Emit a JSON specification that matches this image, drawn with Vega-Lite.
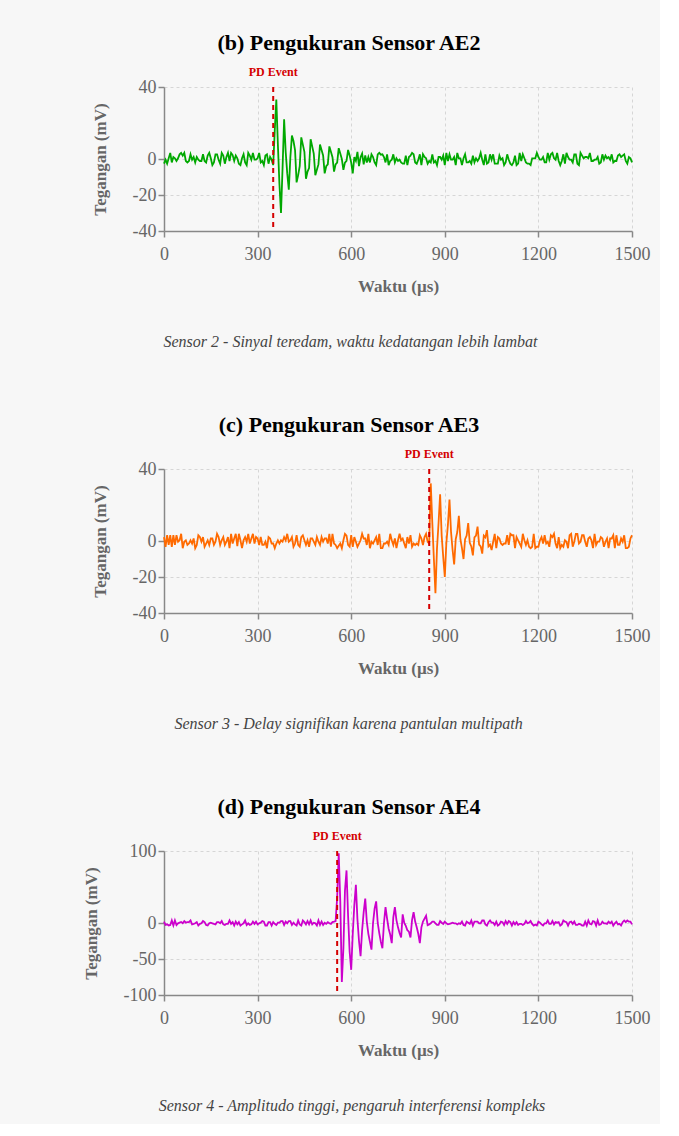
{
"$schema": "https://vega.github.io/schema/vega-lite/v6.json",
"background": "#f7f7f7",
"padding": {"left": 82, "top": 32, "right": 10, "bottom": 10},
"config": {
  "font": "Liberation Serif",
  "view": {"stroke": null},
  "axis": {"labelFontSize": 18, "labelColor": "#666", "titleFontSize": 17, "titleColor": "#666", "titleFontWeight": "bold", "domainColor": "#888", "domainWidth": 1.5, "tickColor": "#888", "tickWidth": 1.5, "tickSize": 6, "gridColor": "#d6d6d6", "gridDash": [3, 3], "labelPadding": 2, "labelFlush": false},
  "title": {"fontSize": 22, "fontWeight": "bold", "color": "#000"},
  "concat": {"spacing": 64}
},
"datasets": {
"ae2": [
{"t":0,"v":-2.6},{"t":5,"v":-0.4},{"t":10,"v":-2.6},{"t":15,"v":0.4},{"t":20,"v":3.4},{"t":25,"v":-1.9},{"t":30,"v":1.1},{"t":35,"v":0.4},{"t":40,"v":-1.1},{"t":45,"v":0.4},
{"t":50,"v":2.6},{"t":55,"v":3.4},{"t":60,"v":1.9},{"t":65,"v":3.4},{"t":70,"v":-1.1},{"t":75,"v":-1.9},{"t":80,"v":-1.1},{"t":85,"v":2.6},{"t":90,"v":-0.4},{"t":95,"v":1.1},
{"t":100,"v":-1.9},{"t":105,"v":1.1},{"t":110,"v":-0.4},{"t":115,"v":-1.1},{"t":120,"v":-1.1},{"t":125,"v":2.6},{"t":130,"v":-1.1},{"t":135,"v":-1.9},{"t":140,"v":1.9},{"t":145,"v":3.4},
{"t":150,"v":0.4},{"t":155,"v":-3.4},{"t":160,"v":-1.9},{"t":165,"v":2.6},{"t":170,"v":2.6},{"t":175,"v":-0.4},{"t":180,"v":-2.6},{"t":185,"v":3.4},{"t":190,"v":1.9},{"t":195,"v":-2.6},
{"t":200,"v":1.1},{"t":205,"v":3.4},{"t":210,"v":-1.1},{"t":215,"v":3.4},{"t":220,"v":2.2},{"t":225,"v":-1.1},{"t":230,"v":1.9},{"t":235,"v":0.4},{"t":240,"v":-2.6},{"t":245,"v":-3.4},
{"t":250,"v":0.4},{"t":255,"v":2.6},{"t":260,"v":-1.9},{"t":265,"v":-3.4},{"t":270,"v":3.4},{"t":275,"v":1.9},{"t":280,"v":-0.4},{"t":285,"v":3.4},{"t":290,"v":-0.4},{"t":295,"v":-0.4},
{"t":300,"v":0.4},{"t":305,"v":3.4},{"t":310,"v":-1.9},{"t":315,"v":-1.1},{"t":320,"v":-3.4},{"t":325,"v":1.9},{"t":330,"v":2.6},{"t":335,"v":-2.6},{"t":340,"v":1.1},{"t":345,"v":-0.4},
{"t":350,"v":-3.4},
{"t":355,"v":16},{"t":360,"v":33},{"t":365,"v":8},{"t":370,"v":-14},{"t":375,"v":-30},{"t":380,"v":-5},{"t":385,"v":22},{"t":390,"v":4},{"t":395,"v":-8},{"t":400,"v":-17},
{"t":405,"v":1},{"t":410,"v":13},{"t":415,"v":10},{"t":420,"v":5},{"t":425,"v":-13},{"t":430,"v":-9},{"t":435,"v":-4},{"t":440,"v":12},{"t":445,"v":8},{"t":450,"v":4},
{"t":455,"v":-11},{"t":460,"v":-7},{"t":465,"v":-5},{"t":470,"v":11},{"t":475,"v":7},{"t":480,"v":3},{"t":485,"v":-9},{"t":490,"v":-6},{"t":495,"v":-3},{"t":500,"v":8},
{"t":505,"v":5},{"t":510,"v":2},{"t":515,"v":-8},{"t":520,"v":-4},{"t":525,"v":-3},{"t":530,"v":7},{"t":535,"v":4},{"t":540,"v":1},{"t":545,"v":-7},{"t":550,"v":-3},
{"t":555,"v":-2},{"t":560,"v":6},{"t":565,"v":3},{"t":570,"v":0},{"t":575,"v":-6},{"t":580,"v":-2},{"t":585,"v":-1},{"t":590,"v":5},{"t":595,"v":2},{"t":600,"v":-2},
{"t":605,"v":-8},{"t":610,"v":1},{"t":615,"v":-1},{"t":620,"v":4},{"t":625,"v":-4},{"t":630,"v":1},{"t":635,"v":3},{"t":640,"v":-3},{"t":645,"v":2},{"t":650,"v":-2},
{"t":655,"v":1.1},{"t":660,"v":-1.9},{"t":665,"v":2.6},{"t":670,"v":1.1},{"t":675,"v":-1.9},{"t":680,"v":-3.4},{"t":685,"v":2.6},{"t":690,"v":3.4},{"t":695,"v":2.4},
{"t":700,"v":2.6},{"t":705,"v":1.1},{"t":710,"v":-1.9},{"t":715,"v":2.6},{"t":720,"v":-3.4},{"t":725,"v":-1.1},{"t":730,"v":-0.4},{"t":735,"v":2.6},{"t":740,"v":-1.9},{"t":745,"v":0.4},
{"t":750,"v":-1.1},{"t":755,"v":-0.4},{"t":760,"v":-1.9},{"t":765,"v":-2.6},{"t":770,"v":-2.6},{"t":775,"v":1.9},{"t":780,"v":-3.4},{"t":785,"v":1.1},{"t":790,"v":1.9},{"t":795,"v":3.4},
{"t":800,"v":2.6},{"t":805,"v":-1.9},{"t":810,"v":-2.6},{"t":815,"v":-0.4},{"t":820,"v":2.6},{"t":825,"v":-3.4},{"t":830,"v":2.6},{"t":835,"v":1.1},{"t":840,"v":0.4},{"t":845,"v":-2.6},
{"t":850,"v":-1.1},{"t":855,"v":-1.9},{"t":860,"v":2.6},{"t":865,"v":-1.9},{"t":870,"v":-1.1},{"t":875,"v":-3.4},{"t":880,"v":1.1},{"t":885,"v":1.1},{"t":890,"v":-0.4},{"t":895,"v":1.9},
{"t":900,"v":-3.4},{"t":905,"v":3.4},{"t":910,"v":-1.1},{"t":915,"v":2.6},{"t":920,"v":-0.4},{"t":925,"v":-0.4},{"t":930,"v":1.1},{"t":935,"v":-3.4},{"t":940,"v":3.4},{"t":945,"v":0.4},
{"t":950,"v":0.4},{"t":955,"v":-3.4},{"t":960,"v":0.4},{"t":965,"v":2.6},{"t":970,"v":-1.9},{"t":975,"v":-1.9},{"t":980,"v":-1.1},{"t":985,"v":-2.6},{"t":990,"v":1.9},{"t":995,"v":-1.9},
{"t":1000,"v":0.4},{"t":1005,"v":-1.1},{"t":1010,"v":0.4},{"t":1015,"v":3.4},{"t":1020,"v":-0.4},{"t":1025,"v":-3.4},{"t":1030,"v":2.6},{"t":1035,"v":-2.6},{"t":1040,"v":-1.9},{"t":1045,"v":2.6},
{"t":1050,"v":-0.4},{"t":1055,"v":2.6},{"t":1060,"v":-2.6},{"t":1065,"v":-2.6},{"t":1070,"v":-2.6},{"t":1075,"v":1.9},{"t":1080,"v":-0.4},{"t":1085,"v":0.4},{"t":1090,"v":-3.4},{"t":1095,"v":-1.9},
{"t":1100,"v":2.6},{"t":1105,"v":-0.4},{"t":1110,"v":-2.6},{"t":1115,"v":-3.4},{"t":1120,"v":-1.9},{"t":1125,"v":1.9},{"t":1130,"v":-3.4},{"t":1135,"v":-2.6},{"t":1140,"v":3.4},{"t":1145,"v":-1.1},
{"t":1150,"v":2.6},{"t":1155,"v":0.4},{"t":1160,"v":-1.9},{"t":1165,"v":-2.6},{"t":1170,"v":-2.6},{"t":1175,"v":-3.4},{"t":1180,"v":0.4},{"t":1185,"v":0.4},{"t":1190,"v":0.4},{"t":1195,"v":3.4},
{"t":1200,"v":1.1},{"t":1205,"v":-0.4},{"t":1210,"v":-0.4},{"t":1215,"v":1.1},{"t":1220,"v":-1.9},{"t":1225,"v":-1.9},{"t":1230,"v":3.4},{"t":1235,"v":-0.4},{"t":1240,"v":2.6},{"t":1245,"v":3.4},
{"t":1250,"v":0.4},{"t":1255,"v":-0.4},{"t":1260,"v":3.4},{"t":1265,"v":-1.1},{"t":1270,"v":-3.4},{"t":1275,"v":-1.1},{"t":1280,"v":2.6},{"t":1285,"v":-2.6},{"t":1290,"v":3.4},{"t":1295,"v":1.1},
{"t":1300,"v":-0.4},{"t":1305,"v":-0.4},{"t":1310,"v":-1.9},{"t":1315,"v":2.6},{"t":1320,"v":2.6},{"t":1325,"v":-2.6},{"t":1330,"v":-3.4},{"t":1335,"v":3.4},{"t":1340,"v":1.9},{"t":1345,"v":0.4},
{"t":1350,"v":1.1},{"t":1355,"v":1.1},{"t":1360,"v":0.4},{"t":1365,"v":3.4},{"t":1370,"v":-1.1},{"t":1375,"v":-1.1},{"t":1380,"v":-0.4},{"t":1385,"v":-0.4},{"t":1390,"v":1.1},{"t":1395,"v":-2.6},
{"t":1400,"v":-1.9},{"t":1405,"v":2.6},{"t":1410,"v":-0.4},{"t":1415,"v":1.9},{"t":1420,"v":0.4},{"t":1425,"v":1.1},{"t":1430,"v":-0.4},{"t":1435,"v":2.6},{"t":1440,"v":-1.9},{"t":1445,"v":-1.1},
{"t":1450,"v":-1.1},{"t":1455,"v":1.9},{"t":1460,"v":2.6},{"t":1465,"v":1.1},{"t":1470,"v":1.9},{"t":1475,"v":2.6},{"t":1480,"v":-1.1},{"t":1485,"v":-2.6},{"t":1490,"v":1.1},{"t":1495,"v":0.4},
{"t":1500,"v":-1.9}
],
"ae3": [
{"t":0,"v":2.2},{"t":5,"v":-3.2},{"t":10,"v":3.2},{"t":15,"v":-2.2},{"t":20,"v":3.2},{"t":25,"v":-3.2},{"t":30,"v":3.2},{"t":35,"v":-2.2},{"t":40,"v":3.2},{"t":45,"v":-0.4},
{"t":50,"v":0.4},{"t":55,"v":4.0},{"t":60,"v":-4.0},{"t":65,"v":-0.4},{"t":70,"v":0.4},{"t":75,"v":-2.2},{"t":80,"v":-1.4},{"t":85,"v":0.4},{"t":90,"v":-1.4},{"t":95,"v":1.4},
{"t":100,"v":-4.0},{"t":105,"v":-2.2},{"t":110,"v":3.2},{"t":115,"v":2.2},{"t":120,"v":-0.4},{"t":125,"v":2.2},{"t":130,"v":-3.2},{"t":135,"v":-1.4},{"t":140,"v":0.4},{"t":145,"v":-2.2},
{"t":150,"v":1.4},{"t":155,"v":1.4},{"t":160,"v":-2.2},{"t":165,"v":-0.4},{"t":170,"v":4.0},{"t":175,"v":2.2},{"t":180,"v":-2.2},{"t":185,"v":0.4},{"t":190,"v":2.2},{"t":195,"v":-2.2},
{"t":200,"v":-0.4},{"t":205,"v":2.2},{"t":210,"v":-4.0},{"t":215,"v":4.0},{"t":220,"v":-1.4},{"t":225,"v":1.4},{"t":230,"v":4.0},{"t":235,"v":-2.8},{"t":240,"v":4.0},{"t":245,"v":0.4},
{"t":250,"v":-4.0},{"t":255,"v":0.4},{"t":260,"v":2.2},{"t":265,"v":-0.4},{"t":270,"v":4.0},{"t":275,"v":-1.4},{"t":280,"v":1.4},{"t":285,"v":4.0},{"t":290,"v":-1.4},{"t":295,"v":2.2},
{"t":300,"v":1.4},{"t":305,"v":-2.2},{"t":310,"v":2.2},{"t":315,"v":-2.2},{"t":320,"v":-2.2},{"t":325,"v":-0.4},{"t":330,"v":-4.0},{"t":335,"v":2.2},{"t":340,"v":1.4},{"t":345,"v":-1.4},
{"t":350,"v":-1.4},{"t":355,"v":-4.0},{"t":360,"v":-1.4},{"t":365,"v":0.4},{"t":370,"v":-1.4},{"t":375,"v":0.4},{"t":380,"v":-0.4},{"t":385,"v":2.2},{"t":390,"v":0.4},{"t":395,"v":4.0},
{"t":400,"v":-0.4},{"t":405,"v":0.4},{"t":410,"v":2.2},{"t":415,"v":-3.2},{"t":420,"v":-1.4},{"t":425,"v":3.2},{"t":430,"v":-2.2},{"t":435,"v":-3.2},{"t":440,"v":2.2},{"t":445,"v":3.2},
{"t":450,"v":0.4},{"t":455,"v":-2.2},{"t":460,"v":0.4},{"t":465,"v":-3.2},{"t":470,"v":1.4},{"t":475,"v":1.4},{"t":480,"v":-0.4},{"t":485,"v":-2.2},{"t":490,"v":2.2},{"t":495,"v":-0.4},
{"t":500,"v":-2.2},{"t":505,"v":2.2},{"t":510,"v":-0.4},{"t":515,"v":1.4},{"t":520,"v":1.4},{"t":525,"v":-1.4},{"t":530,"v":4.0},{"t":535,"v":-3.2},{"t":540,"v":4.0},{"t":545,"v":-1.4},
{"t":550,"v":-2.2},{"t":555,"v":-4.0},{"t":560,"v":-2.6},{"t":565,"v":-1.4},{"t":570,"v":-4.0},{"t":575,"v":0.4},{"t":580,"v":4.0},{"t":585,"v":3.0},{"t":590,"v":-2.2},{"t":595,"v":-3.2},
{"t":600,"v":3.2},{"t":605,"v":-3.2},{"t":610,"v":2.2},{"t":615,"v":-0.4},{"t":620,"v":-3.2},{"t":625,"v":-1.4},{"t":630,"v":0.4},{"t":635,"v":4.0},{"t":640,"v":1.4},{"t":645,"v":1.4},
{"t":650,"v":-2.2},{"t":655,"v":4.0},{"t":660,"v":-4.0},{"t":665,"v":-0.4},{"t":670,"v":-1.4},{"t":675,"v":0.4},{"t":680,"v":2.2},{"t":685,"v":-2.2},{"t":690,"v":4.0},{"t":695,"v":-4.0},
{"t":700,"v":-4.0},{"t":705,"v":-1.4},{"t":710,"v":-1.4},{"t":715,"v":-0.4},{"t":720,"v":-2.2},{"t":725,"v":4.0},{"t":730,"v":0.4},{"t":735,"v":-2.2},{"t":740,"v":1.4},{"t":745,"v":-4.0},
{"t":750,"v":0.4},{"t":755,"v":4.0},{"t":760,"v":0.4},{"t":765,"v":1.4},{"t":770,"v":-1.4},{"t":775,"v":-4.0},{"t":780,"v":2.2},{"t":785,"v":-1.4},{"t":790,"v":3.2},{"t":795,"v":-3.2},
{"t":800,"v":-1.4},{"t":805,"v":-2.2},{"t":810,"v":-1.4},{"t":815,"v":-2.2},{"t":820,"v":3.2},{"t":825,"v":1.4},{"t":830,"v":-2.2},{"t":835,"v":2.2},{"t":840,"v":4.0},{"t":845,"v":-0.4},
{"t":850,"v":-1.4},
{"t":855,"v":32},{"t":860,"v":10},{"t":865,"v":-10},{"t":870,"v":-29},{"t":875,"v":-4},{"t":880,"v":10},{"t":885,"v":26},{"t":890,"v":3},{"t":895,"v":-9},{"t":900,"v":-20},
{"t":905,"v":-1},{"t":910,"v":9},{"t":915,"v":23},{"t":920,"v":5},{"t":925,"v":-5},{"t":930,"v":-13},{"t":935,"v":1},{"t":940,"v":5},{"t":945,"v":14},{"t":950,"v":1},
{"t":955,"v":-4},{"t":960,"v":-10},{"t":965,"v":1},{"t":970,"v":3},{"t":975,"v":10},{"t":980,"v":-1},{"t":985,"v":-3},{"t":990,"v":-8},{"t":995,"v":2},{"t":1000,"v":3},
{"t":1005,"v":8},{"t":1010,"v":-2},{"t":1015,"v":-3},{"t":1020,"v":-7},{"t":1025,"v":3},{"t":1030,"v":2},{"t":1035,"v":6},{"t":1040,"v":-3},{"t":1045,"v":-2},{"t":1050,"v":-5},
{"t":1055,"v":-0.4},{"t":1060,"v":4.0},{"t":1065,"v":-4.0},{"t":1070,"v":2.2},{"t":1075,"v":1.4},{"t":1080,"v":-1.4},{"t":1085,"v":-2.2},{"t":1090,"v":-1.4},{"t":1095,"v":-1.4},
{"t":1100,"v":3.2},{"t":1105,"v":-2.2},{"t":1110,"v":4.0},{"t":1115,"v":3.2},{"t":1120,"v":3.2},{"t":1125,"v":-4.0},{"t":1130,"v":2.2},{"t":1135,"v":0.4},{"t":1140,"v":-1.4},{"t":1145,"v":-3.2},
{"t":1150,"v":4.0},{"t":1155,"v":0.4},{"t":1160,"v":-2.2},{"t":1165,"v":0.4},{"t":1170,"v":-3.2},{"t":1175,"v":-4.0},{"t":1180,"v":-3.2},{"t":1185,"v":4.0},{"t":1190,"v":-4.0},{"t":1195,"v":-3.2},
{"t":1200,"v":-3.2},{"t":1205,"v":0.4},{"t":1210,"v":2.2},{"t":1215,"v":-1.4},{"t":1220,"v":3.2},{"t":1225,"v":-1.4},{"t":1230,"v":-0.4},{"t":1235,"v":-3.2},{"t":1240,"v":3.2},{"t":1245,"v":2.2},
{"t":1250,"v":4.0},{"t":1255,"v":-1.4},{"t":1260,"v":-4.0},{"t":1265,"v":2.2},{"t":1270,"v":-4.0},{"t":1275,"v":-2.2},{"t":1280,"v":-3.2},{"t":1285,"v":0.4},{"t":1290,"v":-0.4},{"t":1295,"v":-4.0},
{"t":1300,"v":3.2},{"t":1305,"v":4.0},{"t":1310,"v":-3.2},{"t":1315,"v":-0.4},{"t":1320,"v":4.0},{"t":1325,"v":4.0},{"t":1330,"v":-1.4},{"t":1335,"v":-0.4},{"t":1340,"v":3.2},{"t":1345,"v":3.2},
{"t":1350,"v":-0.4},{"t":1355,"v":-3.2},{"t":1360,"v":1.4},{"t":1365,"v":2.2},{"t":1370,"v":0.4},{"t":1375,"v":-4.0},{"t":1380,"v":4.0},{"t":1385,"v":-2.2},{"t":1390,"v":-0.4},{"t":1395,"v":-0.4},
{"t":1400,"v":2.2},{"t":1405,"v":1.4},{"t":1410,"v":-3.2},{"t":1415,"v":-0.4},{"t":1420,"v":1.4},{"t":1425,"v":-4.0},{"t":1430,"v":1.4},{"t":1435,"v":1.4},{"t":1440,"v":3.2},{"t":1445,"v":-4.0},
{"t":1450,"v":3.2},{"t":1455,"v":-2.2},{"t":1460,"v":-2.2},{"t":1465,"v":1.4},{"t":1470,"v":-0.4},{"t":1475,"v":3.2},{"t":1480,"v":-4.0},{"t":1485,"v":-4.0},{"t":1490,"v":-3.2},{"t":1495,"v":1.4},
{"t":1500,"v":3.2}
],
"ae4": [
{"t":0,"v":1.9},{"t":5,"v":-2.7},{"t":10,"v":-1.9},{"t":15,"v":-3.5},{"t":20,"v":-2.7},{"t":25,"v":3.5},{"t":30,"v":-3.5},{"t":35,"v":3.5},{"t":40,"v":-2.7},
{"t":45,"v":-0.4},{"t":50,"v":0.4},{"t":55,"v":1.2},{"t":60,"v":-0.4},{"t":65,"v":2.7},{"t":70,"v":0.4},{"t":75,"v":1.2},{"t":80,"v":1.2},{"t":85,"v":3.5},{"t":90,"v":-1.9},
{"t":95,"v":-1.2},{"t":100,"v":-0.4},{"t":105,"v":1.2},{"t":110,"v":-3.5},{"t":115,"v":-1.2},{"t":120,"v":-0.4},{"t":125,"v":2.7},{"t":130,"v":1.2},{"t":135,"v":-2.7},{"t":140,"v":-3.5},
{"t":145,"v":-0.4},{"t":150,"v":0.4},{"t":155,"v":-0.4},{"t":160,"v":-1.2},{"t":165,"v":-1.9},{"t":170,"v":1.2},{"t":175,"v":1.2},{"t":180,"v":-0.4},{"t":185,"v":2.7},{"t":190,"v":-1.9},
{"t":195,"v":-2.7},{"t":200,"v":-1.2},{"t":205,"v":-1.2},{"t":210,"v":3.5},{"t":215,"v":-1.2},{"t":220,"v":1.2},{"t":225,"v":-3.5},{"t":230,"v":1.9},{"t":235,"v":-1.9},{"t":240,"v":1.2},
{"t":245,"v":-3.5},{"t":250,"v":-1.9},{"t":255,"v":-0.4},{"t":260,"v":3.5},{"t":265,"v":-2.7},{"t":270,"v":-0.4},{"t":275,"v":-2.7},{"t":280,"v":-1.9},{"t":285,"v":1.9},{"t":290,"v":-1.2},
{"t":295,"v":1.9},{"t":300,"v":-1.9},{"t":305,"v":-0.4},{"t":310,"v":0.4},{"t":315,"v":2.7},{"t":320,"v":1.9},{"t":325,"v":-3.5},{"t":330,"v":-3.5},{"t":335,"v":1.2},{"t":340,"v":1.2},
{"t":345,"v":-3.5},{"t":350,"v":1.2},{"t":355,"v":-1.2},{"t":360,"v":-2.7},{"t":365,"v":0.4},{"t":370,"v":0.4},{"t":375,"v":2.7},{"t":380,"v":2.7},{"t":385,"v":-2.7},{"t":390,"v":1.9},
{"t":395,"v":-0.4},{"t":400,"v":2.7},{"t":405,"v":2.7},{"t":410,"v":-2.7},{"t":415,"v":0.4},{"t":420,"v":-1.9},{"t":425,"v":-3.5},{"t":430,"v":3.5},{"t":435,"v":-1.9},{"t":440,"v":-3.5},
{"t":445,"v":3.5},{"t":450,"v":1.2},{"t":455,"v":-1.9},{"t":460,"v":2.7},{"t":465,"v":-1.9},{"t":470,"v":3.5},{"t":475,"v":-1.9},{"t":480,"v":0.4},{"t":485,"v":-0.4},{"t":490,"v":-3.5},
{"t":495,"v":3.5},{"t":500,"v":-2.7},{"t":505,"v":1.9},{"t":510,"v":-2.7},{"t":515,"v":0.4},{"t":520,"v":-1.2},{"t":525,"v":1.2},{"t":530,"v":-0.4},{"t":535,"v":-1.2},{"t":540,"v":1.2},
{"t":545,"v":1.9},{"t":550,"v":2.7},
{"t":555,"v":35},{"t":560,"v":97},{"t":565,"v":30},{"t":570,"v":-82},{"t":575,"v":-35},{"t":580,"v":45},{"t":585,"v":73},{"t":590,"v":10},{"t":595,"v":-40},{"t":600,"v":-65},
{"t":605,"v":-15},{"t":610,"v":25},{"t":615,"v":53},{"t":620,"v":5},{"t":625,"v":-25},{"t":630,"v":-46},{"t":635,"v":-10},{"t":640,"v":15},{"t":645,"v":34},{"t":650,"v":2},
{"t":655,"v":-15},{"t":660,"v":-26},{"t":665,"v":-37},{"t":670,"v":0},{"t":675,"v":20},{"t":680,"v":30},{"t":685,"v":0},{"t":690,"v":-14},{"t":695,"v":-26},{"t":700,"v":-35},
{"t":705,"v":0},{"t":710,"v":22},{"t":715,"v":6},{"t":720,"v":-8},{"t":725,"v":-16},{"t":730,"v":-28},{"t":735,"v":8},{"t":740,"v":22},{"t":745,"v":4},{"t":750,"v":-6},
{"t":755,"v":-14},{"t":760,"v":-20},{"t":765,"v":12},{"t":770,"v":0},{"t":775,"v":-4},{"t":780,"v":-10},{"t":785,"v":-12},{"t":790,"v":-20},{"t":795,"v":4},{"t":800,"v":15},
{"t":805,"v":2},{"t":810,"v":-6},{"t":815,"v":-15},{"t":820,"v":-28},{"t":825,"v":-6},{"t":830,"v":2},{"t":835,"v":6},{"t":840,"v":10},{"t":845,"v":-3},{"t":850,"v":-2},
{"t":855,"v":-0.4},{"t":860,"v":1.9},{"t":865,"v":1.9},{"t":870,"v":-0.4},{"t":875,"v":-2.7},{"t":880,"v":-2.7},{"t":885,"v":2.7},{"t":890,"v":0.4},{"t":895,"v":-1.2},
{"t":900,"v":1.9},{"t":905,"v":-0.4},{"t":910,"v":-1.9},{"t":915,"v":-1.2},{"t":920,"v":-0.4},{"t":925,"v":0.4},{"t":930,"v":-0.4},{"t":935,"v":-0.4},{"t":940,"v":-1.9},{"t":945,"v":-0.4},
{"t":950,"v":-1.2},{"t":955,"v":1.9},{"t":960,"v":-2.7},{"t":965,"v":-3.5},{"t":970,"v":1.9},{"t":975,"v":0.4},{"t":980,"v":-1.2},{"t":985,"v":3.5},{"t":990,"v":-3.5},{"t":995,"v":1.9},
{"t":1000,"v":1.9},{"t":1005,"v":1.9},{"t":1010,"v":-0.4},{"t":1015,"v":-0.4},{"t":1020,"v":3.5},{"t":1025,"v":3.5},{"t":1030,"v":-1.9},{"t":1035,"v":-3.5},{"t":1040,"v":1.2},{"t":1045,"v":3.5},
{"t":1050,"v":0.4},{"t":1055,"v":0.4},{"t":1060,"v":-2.7},{"t":1065,"v":1.9},{"t":1070,"v":-3.5},{"t":1075,"v":-1.9},{"t":1080,"v":1.9},{"t":1085,"v":1.2},{"t":1090,"v":-2.7},{"t":1095,"v":2.7},
{"t":1100,"v":-1.2},{"t":1105,"v":2.7},{"t":1110,"v":1.2},{"t":1115,"v":-3.5},{"t":1120,"v":1.2},{"t":1125,"v":-1.9},{"t":1130,"v":1.2},{"t":1135,"v":-2.7},{"t":1140,"v":-1.2},{"t":1145,"v":-1.2},
{"t":1150,"v":-2.7},{"t":1155,"v":-1.2},{"t":1160,"v":2.7},{"t":1165,"v":-0.4},{"t":1170,"v":0.4},{"t":1175,"v":2.7},{"t":1180,"v":-1.2},{"t":1185,"v":-3.5},{"t":1190,"v":-2.2},{"t":1195,"v":-3.5},
{"t":1200,"v":1.9},{"t":1205,"v":0.4},{"t":1210,"v":-1.9},{"t":1215,"v":-3.5},{"t":1220,"v":-0.4},{"t":1225,"v":-0.4},{"t":1230,"v":3.5},{"t":1235,"v":-1.2},{"t":1240,"v":-1.2},{"t":1245,"v":2.7},
{"t":1250,"v":-1.9},{"t":1255,"v":1.2},{"t":1260,"v":0.4},{"t":1265,"v":1.2},{"t":1270,"v":-3.5},{"t":1275,"v":-1.9},{"t":1280,"v":3.5},{"t":1285,"v":1.9},{"t":1290,"v":1.2},{"t":1295,"v":-3.5},
{"t":1300,"v":1.2},{"t":1305,"v":1.9},{"t":1310,"v":-1.2},{"t":1315,"v":1.9},{"t":1320,"v":-2.7},{"t":1325,"v":-2.7},{"t":1330,"v":-1.2},{"t":1335,"v":-1.9},{"t":1340,"v":-3.5},{"t":1345,"v":-3.5},
{"t":1350,"v":1.9},{"t":1355,"v":-3.5},{"t":1360,"v":3.5},{"t":1365,"v":-1.2},{"t":1370,"v":-1.9},{"t":1375,"v":2.7},{"t":1380,"v":1.9},{"t":1385,"v":-3.5},{"t":1390,"v":3.5},{"t":1395,"v":-2.7},
{"t":1400,"v":-1.9},{"t":1405,"v":1.9},{"t":1410,"v":-0.4},{"t":1415,"v":-0.4},{"t":1420,"v":-1.2},{"t":1425,"v":1.9},{"t":1430,"v":-0.4},{"t":1435,"v":1.9},{"t":1440,"v":-3.5},{"t":1445,"v":-0.4},
{"t":1450,"v":1.9},{"t":1455,"v":-1.9},{"t":1460,"v":-1.2},{"t":1465,"v":-3.5},{"t":1470,"v":1.2},{"t":1475,"v":3.5},{"t":1480,"v":1.2},{"t":1485,"v":3.5},{"t":1490,"v":1.9},{"t":1495,"v":1.9},
{"t":1500,"v":-1.9}
]
},
"vconcat": [
{
  "title": {"text": "Sensor 2 - Sinyal teredam, waktu kedatangan lebih lambat", "orient": "bottom", "anchor": "middle", "fontSize": 16, "fontStyle": "italic", "fontWeight": "normal", "color": "#444", "offset": 40, "dx": -20},
  "vconcat": [{
    "title": {"text": "(b) Pengukuran Sensor AE2", "anchor": "middle", "offset": 11, "dx": -49},
    "width": 468, "height": 144,
    "layer": [
      {"data": {"name": "ae2"}, "mark": {"type": "line", "color": "#00a800", "strokeWidth": 1.8},
       "encoding": {
         "x": {"field": "t", "type": "quantitative", "scale": {"domain": [0, 1500], "nice": false}, "axis": {"values": [0, 300, 600, 900, 1200, 1500], "labelExpr": "datum.value + ''", "labelPadding": 8, "title": "Waktu (µs)", "titlePadding": 15}},
         "y": {"field": "v", "type": "quantitative", "scale": {"domain": [-40, 40], "nice": false}, "axis": {"values": [-40, -20, 0, 40], "labelExpr": "datum.value + ''", "title": "Tegangan (mV)", "titlePadding": 23}}}},
      {"data": {"values": [{"e": 350, "label": "PD Event"}]}, "mark": {"type": "rule", "color": "#d40000", "strokeDash": [5, 4], "strokeWidth": 2}, "encoding": {"x": {"field": "e", "type": "quantitative"}}},
      {"data": {"values": [{"e": 350, "label": "PD Event"}]}, "mark": {"type": "text", "color": "#d40000", "fontWeight": "bold", "fontSize": 12, "baseline": "bottom", "dy": -8}, "encoding": {"x": {"field": "e", "type": "quantitative"}, "y": {"datum": 40}, "text": {"field": "label"}}}
    ]
  }]
},
{
  "title": {"text": "Sensor 3 - Delay signifikan karena pantulan multipath", "orient": "bottom", "anchor": "middle", "fontSize": 16, "fontStyle": "italic", "fontWeight": "normal", "color": "#444", "offset": 40, "dx": -22},
  "vconcat": [{
    "title": {"text": "(c) Pengukuran Sensor AE3", "anchor": "middle", "offset": 11, "dx": -49},
    "width": 468, "height": 144,
    "layer": [
      {"data": {"name": "ae3"}, "mark": {"type": "line", "color": "#ff6a00", "strokeWidth": 1.8},
       "encoding": {
         "x": {"field": "t", "type": "quantitative", "scale": {"domain": [0, 1500], "nice": false}, "axis": {"values": [0, 300, 600, 900, 1200, 1500], "labelExpr": "datum.value + ''", "labelPadding": 8, "title": "Waktu (µs)", "titlePadding": 15}},
         "y": {"field": "v", "type": "quantitative", "scale": {"domain": [-40, 40], "nice": false}, "axis": {"values": [-40, -20, 0, 40], "labelExpr": "datum.value + ''", "title": "Tegangan (mV)", "titlePadding": 23}}}},
      {"data": {"values": [{"e": 850, "label": "PD Event"}]}, "mark": {"type": "rule", "color": "#d40000", "strokeDash": [5, 4], "strokeWidth": 2}, "encoding": {"x": {"field": "e", "type": "quantitative"}}},
      {"data": {"values": [{"e": 850, "label": "PD Event"}]}, "mark": {"type": "text", "color": "#d40000", "fontWeight": "bold", "fontSize": 12, "baseline": "bottom", "dy": -8}, "encoding": {"x": {"field": "e", "type": "quantitative"}, "y": {"datum": 40}, "text": {"field": "label"}}}
    ]
  }]
},
{
  "title": {"text": "Sensor 4 - Amplitudo tinggi, pengaruh interferensi kompleks", "orient": "bottom", "anchor": "middle", "fontSize": 16, "fontStyle": "italic", "fontWeight": "normal", "color": "#444", "offset": 40, "dx": -14},
  "vconcat": [{
    "title": {"text": "(d) Pengukuran Sensor AE4", "anchor": "middle", "offset": 11, "dx": -49},
    "width": 468, "height": 144,
    "layer": [
      {"data": {"name": "ae4"}, "mark": {"type": "line", "color": "#cc00cc", "strokeWidth": 1.8},
       "encoding": {
         "x": {"field": "t", "type": "quantitative", "scale": {"domain": [0, 1500], "nice": false}, "axis": {"values": [0, 300, 600, 900, 1200, 1500], "labelExpr": "datum.value + ''", "labelPadding": 8, "title": "Waktu (µs)", "titlePadding": 15}},
         "y": {"field": "v", "type": "quantitative", "scale": {"domain": [-100, 100], "nice": false}, "axis": {"values": [-100, -50, 0, 100], "labelExpr": "datum.value + ''", "title": "Tegangan (mV)", "titlePadding": 23}}}},
      {"data": {"values": [{"e": 555, "label": "PD Event"}]}, "mark": {"type": "rule", "color": "#d40000", "strokeDash": [5, 4], "strokeWidth": 2}, "encoding": {"x": {"field": "e", "type": "quantitative"}}},
      {"data": {"values": [{"e": 555, "label": "PD Event"}]}, "mark": {"type": "text", "color": "#d40000", "fontWeight": "bold", "fontSize": 12, "baseline": "bottom", "dy": -8}, "encoding": {"x": {"field": "e", "type": "quantitative"}, "y": {"datum": 100}, "text": {"field": "label"}}}
    ]
  }]
}
]
}
